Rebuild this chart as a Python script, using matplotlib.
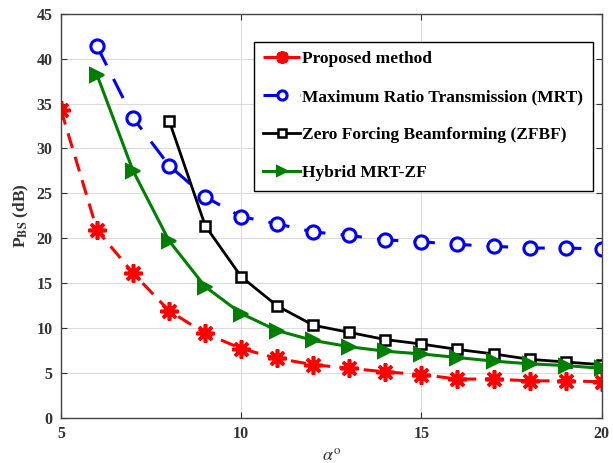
import numpy as np
import matplotlib
matplotlib.use("Agg")
import matplotlib.pyplot as plt

plt.rcParams['font.family'] = ['Liberation Serif', 'DejaVu Serif']
plt.rcParams['mathtext.fontset'] = 'stix'

# beam angle (degrees) and transmit power at the BS for each scheme
alpha_prop = [5, 6, 7, 8, 9, 10, 11, 12, 13, 14, 15, 16, 17, 18, 19, 20]
p_prop = [34.3, 20.9, 16.1, 11.9, 9.4, 7.7, 6.6, 5.9, 5.5, 5.1, 4.8, 4.3, 4.3, 4.1, 4.1, 4.0]

alpha_mrt = [6, 7, 8, 9, 10, 11, 12, 13, 14, 15, 16, 17, 18, 19, 20]
p_mrt = [41.4, 33.4, 28.1, 24.6, 22.4, 21.6, 20.7, 20.3, 19.8, 19.6, 19.3, 19.1, 18.9, 18.9, 18.8]

alpha_zf = [8, 9, 10, 11, 12, 13, 14, 15, 16, 17, 18, 19, 20]
p_zf = [33.1, 21.4, 15.7, 12.45, 10.3, 9.5, 8.7, 8.2, 7.6, 7.1, 6.5, 6.2, 5.9]

alpha_hyb = [6, 7, 8, 9, 10, 11, 12, 13, 14, 15, 16, 17, 18, 19, 20]
p_hyb = [38.2, 27.5, 19.7, 14.6, 11.6, 9.7, 8.6, 7.9, 7.4, 7.1, 6.7, 6.3, 6.0, 5.8, 5.5]

fig = plt.figure(figsize=(6.13, 4.63), dpi=100)
ax = fig.add_axes([0.0995, 0.098, 0.882, 0.872])

ax.plot(alpha_prop, p_prop, color='red', linestyle=(0, (5, 3)), linewidth=2.2,
        marker=(8, 2, 0), markersize=13, markeredgewidth=2.6,
        label='Proposed method')
ax.plot(alpha_mrt, p_mrt, color='blue', linestyle=(0, (7, 5)), linewidth=2.2,
        marker='o', markersize=9.5, markerfacecolor='white', markeredgewidth=2.2,
        label='Maximum Ratio Transmission (MRT)')
ax.plot(alpha_zf, p_zf, color='black', linestyle='-', linewidth=2,
        marker='s', markersize=7.5, markerfacecolor='white', markeredgewidth=1.8,
        label='Zero Forcing Beamforming (ZFBF)')
ax.plot(alpha_hyb, p_hyb, color='green', linestyle='-', linewidth=2.2,
        marker='>', markersize=10, markerfacecolor='green', markeredgewidth=1.5,
        label='Hybrid MRT-ZF')

ax.set_xlim(5, 20)
ax.set_ylim(0, 45)
ax.set_xticks([5, 10, 15, 20])
ax.set_yticks(np.arange(0, 46, 5))
ax.grid(True, color='#dcdcdc', linewidth=0.8)
ax.set_axisbelow(True)
ax.tick_params(direction='in', top=True, right=True, length=4, width=0.8,
               labelsize=11.5, colors='#333333', labelcolor='#333333', pad=6)
for lbl in ax.get_xticklabels() + ax.get_yticklabels():
    lbl.set_fontweight('bold')
for sp in ax.spines.values():
    sp.set_color('#444444')
    sp.set_linewidth(1.0)

ax.set_xlabel(r'$\alpha^{\mathrm{o}}$', fontsize=13, color='#333333', labelpad=4)
ax.set_ylabel(r'P$_{\mathbf{BS}}$ (dB)', fontsize=12.5, fontweight='bold',
              color='#333333', labelpad=4)

leg = ax.legend(loc='upper right', bbox_to_anchor=(0.984, 0.931),
                prop={'weight': 'bold', 'size': 12.5}, handlelength=2.1,
                handletextpad=0.15, labelspacing=1.25, borderpad=0.55,
                borderaxespad=0.0, fancybox=False, framealpha=1,
                edgecolor='black', markerscale=0.7)
leg.get_frame().set_linewidth(1.0)

fig.savefig('out.png', dpi=100)
